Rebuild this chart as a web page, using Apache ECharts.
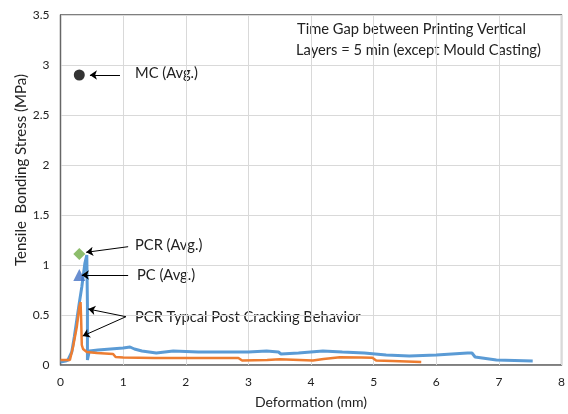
<!DOCTYPE html>
<html>
<head>
<meta charset="utf-8">
<script src="https://cdn.jsdelivr.net/npm/echarts@6/dist/echarts.min.js"></script>
<style>html,body{margin:0;padding:0;background:#fff}#c{width:568px;height:414px}</style>
</head>
<body>
<div id="c"></div>
<script>
// PCR typical curve (blue)
const pcrX = [0, 0.08, 0.12, 0.18, 0.22, 0.26, 0.30, 0.34, 0.39, 0.42, 0.43, 0.43, 0.46, 0.6, 0.8, 1.0, 1.11, 1.18, 1.3, 1.53, 1.8, 2.2, 2.6, 3.0, 3.29, 3.48, 3.52, 3.8, 4.19, 4.5, 4.85, 4.88, 5.2, 5.57, 6.0, 6.5, 6.57, 6.62, 6.96, 7.54];
const pcrY = [0.03, 0.04, 0.05, 0.13, 0.28, 0.45, 0.62, 0.78, 1.02, 1.10, 0.60, 0.05, 0.14, 0.15, 0.16, 0.17, 0.18, 0.16, 0.14, 0.12, 0.14, 0.13, 0.13, 0.13, 0.14, 0.13, 0.11, 0.12, 0.14, 0.13, 0.12, 0.10, 0.10, 0.09, 0.10, 0.12, 0.12, 0.08, 0.05, 0.04];
// PC typical curve (orange)
const pcX = [0, 0.15, 0.2, 0.26, 0.30, 0.32, 0.33, 0.34, 0.36, 0.42, 0.58, 0.84, 0.88, 1.0, 1.5, 2.0, 2.5, 2.84, 2.9, 3.3, 3.5, 4.03, 4.2, 4.46, 4.8, 4.98, 5.04, 5.3, 5.76];
const pcY = [0.05, 0.05, 0.18, 0.38, 0.58, 0.63, 0.45, 0.20, 0.16, 0.13, 0.12, 0.11, 0.08, 0.075, 0.07, 0.07, 0.07, 0.07, 0.045, 0.05, 0.057, 0.045, 0.06, 0.077, 0.075, 0.073, 0.045, 0.04, 0.03];
// Average points
const mcAvg = [0.30, 2.90];
const pcrAvg = [0.30, 1.11];
const pcAvg = [0.30, 0.90];
// Axis ticks
const xTicks = [0, 1, 2, 3, 4, 5, 6, 7, 8];
const yTicks = [0, 0.5, 1, 1.5, 2, 2.5, 3, 3.5];
// Annotation arrows [from, to] in data units
const arrows = [
  [[0.95, 2.90], [0.47, 2.90]],
  [[1.08, 1.183], [0.41, 1.127]],
  [[1.08, 0.90], [0.34, 0.90]],
  [[1.045, 0.483], [0.443, 0.56]],
  [[1.045, 0.483], [0.354, 0.29]]
];

const zip = (a, b) => a.map((v, i) => [v, b[i]]);
const FONT = 'Lato';
const chart = echarts.init(document.getElementById('c'), null, {renderer: 'canvas'});
chart.setOption({
  animation: false,
  grid: {left: 60.5, top: 15, width: 501.5, height: 350, show: true, borderColor: '#000', borderWidth: 1.2, backgroundColor: 'transparent'},
  xAxis: {
    type: 'value', min: xTicks[0], max: xTicks[xTicks.length - 1], interval: 1,
    name: 'Deformation (mm)', nameLocation: 'middle', nameGap: 30,
    nameTextStyle: {fontFamily: FONT, fontSize: 14, color: '#222'},
    axisLine: {show: true, onZero: false, lineStyle: {color: '#888', width: 1.2}},
    axisTick: {show: false},
    axisLabel: {fontFamily: FONT, fontSize: 12, color: '#222', margin: 11},
    splitLine: {show: true, lineStyle: {color: '#d9d9d9', width: 1}}
  },
  yAxis: {
    type: 'value', min: yTicks[0], max: yTicks[yTicks.length - 1], interval: 0.5,
    axisLine: {show: true, onZero: false, lineStyle: {color: '#666', width: 1.2}},
    axisTick: {show: false},
    axisLabel: {fontFamily: FONT, fontSize: 12, color: '#222', margin: 11},
    splitLine: {show: true, lineStyle: {color: '#d9d9d9', width: 1}}
  },
  series: [
    {type: 'line', name: 'PCR', data: zip(pcrX, pcrY), showSymbol: false, symbol: 'none', lineStyle: {color: '#5B9BD5', width: 3}, z: 2},
    {type: 'line', name: 'PC', data: zip(pcX, pcY), showSymbol: false, symbol: 'none', lineStyle: {color: '#ED7D31', width: 2.5}, z: 3},
    {type: 'scatter', name: 'MC (Avg.)', data: [mcAvg], symbol: 'circle', symbolSize: 11, itemStyle: {color: '#000'}, z: 5},
    {type: 'scatter', name: 'PCR (Avg.)', data: [pcrAvg], symbol: 'diamond', symbolSize: 12, itemStyle: {color: '#70AD47'}, z: 5},
    {type: 'scatter', name: 'PC (Avg.)', data: [pcAvg], symbol: 'triangle', symbolSize: 12, itemStyle: {color: '#4472C4'}, z: 5},
    {type: 'lines', coordinateSystem: 'cartesian2d', z: 6, silent: true,
      symbol: ['none', 'arrow'], symbolSize: 7,
      lineStyle: {color: '#000', width: 1, opacity: 1},
      data: arrows.map(a => ({coords: [a[0], a[1]]}))
    }
  ],
  graphic: [
    {type: 'text', x: 21, y: 170, rotation: Math.PI / 2, style: {text: 'Tensile  Bonding Stress (MPa)', font: '15px ' + FONT, fill: '#222', align: 'center', verticalAlign: 'middle'}},
    {type: 'text', left: 297, top: 22, style: {text: 'Time Gap between Printing Vertical', font: '14.7px ' + FONT, fill: '#222'}},
    {type: 'text', left: 296, top: 43, style: {text: 'Layers = 5 min (except Mould Casting)', font: '14.7px ' + FONT, fill: '#222'}},
    {type: 'text', left: 135, top: 66, style: {text: 'MC (Avg.)', font: '14.7px ' + FONT, fill: '#222'}},
    {type: 'text', left: 135, top: 238, style: {text: 'PCR (Avg.)', font: '14.7px ' + FONT, fill: '#222'}},
    {type: 'text', left: 137, top: 268, style: {text: 'PC (Avg.)', font: '14.7px ' + FONT, fill: '#222'}},
    {type: 'text', left: 135, top: 310, style: {text: 'PCR Typcal Post Cracking Behavior', font: '14.7px ' + FONT, fill: '#222'}}
  ]
});
</script>
</body>
</html>
